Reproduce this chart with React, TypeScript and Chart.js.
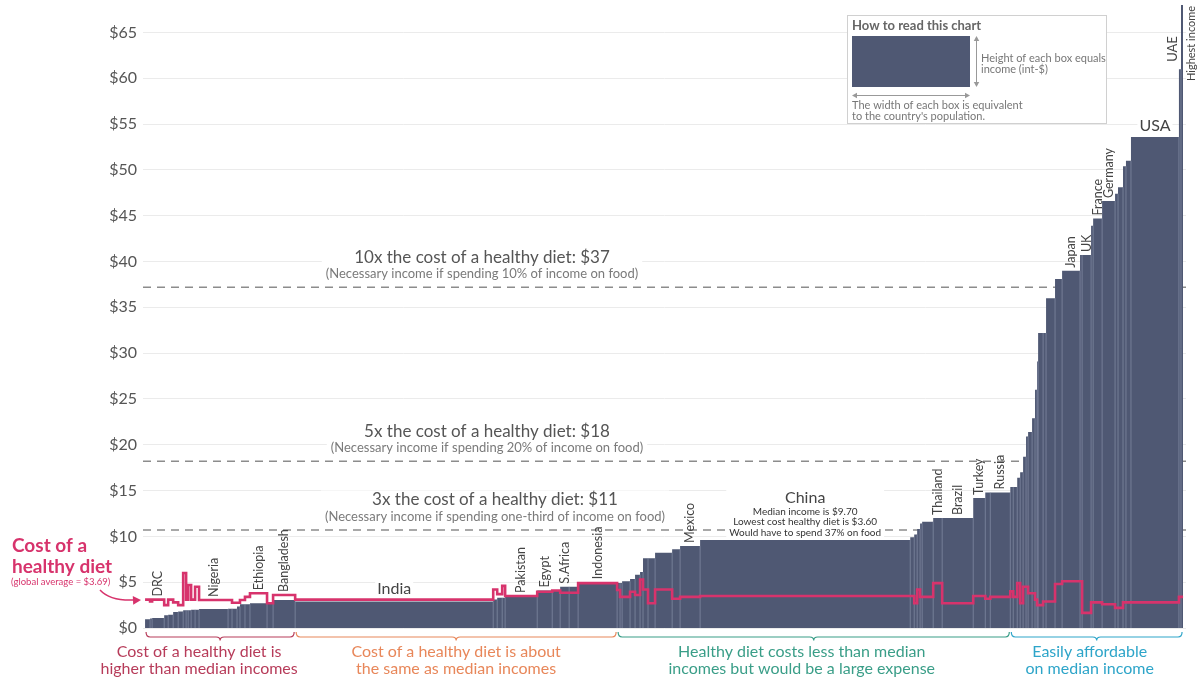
import React, { useEffect, useRef } from 'react';
import { Chart, registerables } from 'chart.js';

Chart.register(...registerables);

// ---------- DATA ----------
const countries = [
  '', '', 'DRC', '', '', '', '', '', '', '', '', '', 'Nigeria', '', '', '', '', '', 'Ethiopia', '', 'Bangladesh',
  'India', '', '', '', 'Pakistan', 'Egypt', '', 'S.Africa', '', 'Indonesia',
  '', '', '', '', '', '', '', '', '', '', 'Mexico', 'China', '', '', '', '', '', 'Thailand', 'Brazil', 'Turkey', '', 'Russia',
  '', '', '', '', '', '', '', '', '', '', '', '', '', '', 'Japan', '', 'UK', '', 'France', 'Germany', '', '', '', '', 'USA', 'UAE', 'Highest income',
];

// population, millions of people (box width)
const population = [
  34, 14, 82, 27, 34, 34, 34, 20, 14, 20, 27, 27, 197, 27, 34, 20, 34, 34, 116, 41, 150,
  1346, 27, 34, 20, 218, 102, 54, 61, 61, 265,
  20, 14, 54, 34, 34, 20, 34, 48, 116, 54, 136, 1428, 27, 20, 20, 14, 75, 61, 211, 82, 34, 136,
  20, 27, 20, 20, 20, 14, 27, 20, 14, 7, 34, 20, 61, 48, 122, 14, 61, 14, 61, 88, 20, 34, 20, 34, 326, 14, 14,
];

// median income, int-$ per day (box height)
const medianIncome = [
  0.95, 1.05, 1.1, 1.4, 1.45, 1.75, 1.8, 1.95, 1.95, 1.95, 2.0, 2.0, 2.08, 2.1, 2.1, 2.35, 2.6, 2.6, 2.7, 2.75, 3.05,
  2.88, 3.1, 3.3, 3.3, 3.4, 4.1, 4.15, 4.5, 4.5, 5.0,
  4.9, 4.9, 5.1, 5.35, 5.8, 6.1, 7.6, 7.6, 8.2, 8.6, 8.95, 9.6, 9.9, 10.2, 10.8, 11.4, 11.6, 12.0, 12.0, 14.2, 14.8, 14.8,
  15.4, 15.4, 16.4, 17.0, 18.7, 20.9, 21.4, 22.9, 26.0, 29.1, 32.2, 32.2, 36.0, 38.1, 39.0, 40.7, 40.7, 43.9, 44.7, 46.6, 47.4, 48.1, 50.4, 51.0, 53.6, 61.0, 68.0,
];

// lowest cost of a healthy diet, int-$ per day
const dietCost = [
  3.1, 2.9, 3.1, 2.5, 3.1, 2.8, 2.5, 6.0, 3.1, 4.7, 3.1, 4.5, 3.05, 3.05, 2.75, 2.75, 3.05, 3.4, 3.8, 2.7, 3.6,
  3.1, 4.2, 3.7, 4.6, 3.5, 3.95, 4.1, 3.85, 3.85, 4.9,
  4.15, 3.4, 3.4, 3.95, 3.6, 5.3, 4.2, 2.7, 4.2, 3.2, 3.4, 3.5, 3.5, 2.7, 4.2, 3.4, 3.4, 4.9, 2.7, 3.5, 3.2, 3.4,
  4.0, 3.4, 4.9, 2.7, 4.5, 4.5, 3.8, 3.8, 3.1, 2.5, 2.5, 2.9, 2.9, 4.8, 5.1, 5.1, 1.65, 2.8, 2.8, 2.6, 2.2, 2.2, 2.8, 2.8, 2.8, 3.4, 3.4,
];

const verticalLabelCountries = ['DRC', 'Nigeria', 'Ethiopia', 'Bangladesh', 'Pakistan', 'Egypt', 'S.Africa', 'Indonesia', 'Mexico', 'Thailand', 'Brazil', 'Turkey', 'Russia', 'Japan', 'UK', 'France', 'Germany'];
const horizontalLabelCountries = ['India', 'USA'];

const referenceIncome = [10.7, 18.2, 37.2];
const referenceTitle = ['3x the cost of a healthy diet: $11', '5x the cost of a healthy diet: $18', '10x the cost of a healthy diet: $37'];
const referenceNote = [
  '(Necessary income if spending one-third of income on food)',
  '(Necessary income if spending 20% of income on food)',
  '(Necessary income if spending 10% of income on food)',
];

const chinaNotes = ['Median income is $9.70', 'Lowest cost healthy diet is $3.60', 'Would have to spend 37% on food'];

const groupLastCountry = ['Bangladesh', 'Indonesia', 'Russia', 'Highest income'];
const groupLine1 = ['Cost of a healthy diet is', 'Cost of a healthy diet is about', 'Healthy diet costs less than median', 'Easily affordable'];
const groupLine2 = ['higher than median incomes', 'the same as median incomes', 'incomes but would be a large expense', 'on median income'];

// ---------- STYLE / LAYOUT ----------
const BAR = '#4f5873';
const SEP = 'rgba(150,158,182,0.55)';
const PINK = '#d7336c';
const GROUP_COLORS = ['#b73c5a', '#e8875a', '#3a9e88', '#2ea5c9'];
const GROUP_TEXT_SHIFT = [-21, 0, -12, -7];
const REF_TEXT_X = [495, 487, 482];
const SIDE_LABELS = [
  { country: 'UAE', dx: -7, at: 61.8, size: 13 },
  { country: 'Highest income', dx: 9, at: 59.7, size: 11 },
];
const FONT = 'Lato, "Open Sans", sans-serif';

const n = population.length;
const starts: number[] = [];
let acc = 0;
population.forEach((p) => {
  starts.push(acc);
  acc += p;
});
const total = acc;
const X_MIN = -14;
const X_MAX = total + 20;

function drawBlock(ctx: CanvasRenderingContext2D, cx: number, lines: { text: string; size: number; weight?: string; color: string; y: number }[], padX = 4) {
  let w = 0;
  lines.forEach((l) => {
    ctx.font = `${l.weight || 'normal'} ${l.size}px ${FONT}`;
    w = Math.max(w, ctx.measureText(l.text).width);
  });
  const top = Math.min(...lines.map((l) => l.y - l.size / 2)) - 1;
  const bottom = Math.max(...lines.map((l) => l.y + l.size / 2)) + 1;
  ctx.fillStyle = '#ffffff';
  ctx.fillRect(cx - w / 2 - padX, top, w + 2 * padX, bottom - top);
  ctx.textAlign = 'center';
  ctx.textBaseline = 'middle';
  lines.forEach((l) => {
    ctx.font = `${l.weight || 'normal'} ${l.size}px ${FONT}`;
    ctx.fillStyle = l.color;
    ctx.fillText(l.text, cx, l.y);
  });
}

function arrowHead(ctx: CanvasRenderingContext2D, x: number, y: number, angle: number, size: number) {
  ctx.save();
  ctx.translate(x, y);
  ctx.rotate(angle);
  ctx.beginPath();
  ctx.moveTo(0, 0);
  ctx.lineTo(-size, -size * 0.55);
  ctx.lineTo(-size, size * 0.55);
  ctx.closePath();
  ctx.fill();
  ctx.restore();
}

const annotationPlugin = {
  id: 'annotations',
  afterDatasetsDraw(chart: any) {
    const ctx: CanvasRenderingContext2D = chart.ctx;
    const xs = chart.scales.x;
    const ys = chart.scales.y;
    const X = (v: number) => xs.getPixelForValue(v);
    const Y = (v: number) => ys.getPixelForValue(v);
    ctx.save();

    // reference line captions
    referenceIncome.forEach((lvl, i) => {
      const y = Y(lvl);
      drawBlock(ctx, REF_TEXT_X[i], [
        { text: referenceTitle[i], size: 17, color: '#555', y: y - 30 },
        { text: referenceNote[i], size: 13, color: '#7a7a7a', y: y - 13 },
      ]);
    });

    // horizontal country labels
    horizontalLabelCountries.forEach((c) => {
      const i = countries.indexOf(c);
      const cx = X(starts[i] + population[i] / 2);
      drawBlock(ctx, cx, [{ text: c, size: 16, color: '#444', y: Y(Math.max(medianIncome[i], dietCost[i])) - 11 }], 2);
    });

    // China block
    {
      const i = countries.indexOf('China');
      const cx = X(starts[i] + population[i] / 2);
      const top = Y(medianIncome[i]);
      drawBlock(ctx, cx, [
        { text: 'China', size: 16, color: '#444', y: top - 42 },
        { text: chinaNotes[0], size: 10, color: '#333', y: top - 28 },
        { text: chinaNotes[1], size: 10, color: '#333', y: top - 18 },
        { text: chinaNotes[2], size: 10, color: '#333', y: top - 7 },
      ], 3);
    }

    // vertical country labels
    ctx.fillStyle = '#444';
    ctx.textAlign = 'left';
    ctx.textBaseline = 'middle';
    verticalLabelCountries.forEach((c) => {
      const i = countries.indexOf(c);
      const cx = X(starts[i] + population[i] / 2);
      const yb = Y(Math.max(medianIncome[i], dietCost[i])) - 3;
      ctx.save();
      ctx.translate(cx, yb);
      ctx.rotate(-Math.PI / 2);
      ctx.font = `12.5px ${FONT}`;
      ctx.fillText(c, 0, 0);
      ctx.restore();
    });
    SIDE_LABELS.forEach((s) => {
      const i = countries.indexOf(s.country);
      const cx = X(starts[i] + population[i] / 2) + s.dx;
      ctx.save();
      ctx.translate(cx, Y(s.at));
      ctx.rotate(-Math.PI / 2);
      ctx.font = `${s.size}px ${FONT}`;
      ctx.fillStyle = '#444';
      ctx.textAlign = 'left';
      ctx.textBaseline = 'middle';
      ctx.fillText(s.country, 0, 0);
      ctx.restore();
    });

    // group braces and captions
    let first = 0;
    const yTop = chart.chartArea.bottom + 4;
    groupLastCountry.forEach((c, g) => {
      const last = countries.indexOf(c);
      const x1 = X(starts[first]) + 1;
      const x2 = X(starts[last] + population[last]) - 1;
      const mid = (x1 + x2) / 2;
      const yl = yTop + 5;
      const r = 4;
      ctx.strokeStyle = GROUP_COLORS[g];
      ctx.lineWidth = 1.2;
      ctx.beginPath();
      ctx.moveTo(x1, yTop);
      ctx.quadraticCurveTo(x1, yl, x1 + r, yl);
      ctx.lineTo(mid - r, yl);
      ctx.quadraticCurveTo(mid, yl, mid, yl + 3.5);
      ctx.quadraticCurveTo(mid, yl, mid + r, yl);
      ctx.lineTo(x2 - r, yl);
      ctx.quadraticCurveTo(x2, yl, x2, yTop);
      ctx.stroke();
      ctx.fillStyle = GROUP_COLORS[g];
      ctx.font = `16px ${FONT}`;
      ctx.textAlign = 'center';
      ctx.textBaseline = 'middle';
      ctx.fillText(groupLine1[g], mid + GROUP_TEXT_SHIFT[g], yTop + 20);
      ctx.fillText(groupLine2[g], mid + GROUP_TEXT_SHIFT[g], yTop + 37);
      first = last + 1;
    });

    // left annotation for the pink line
    ctx.fillStyle = PINK;
    ctx.textAlign = 'left';
    ctx.textBaseline = 'middle';
    ctx.font = `bold 19px ${FONT}`;
    ctx.fillText('Cost of a', 12, 546);
    ctx.fillText('healthy diet', 12, 567);
    ctx.font = `9.5px ${FONT}`;
    ctx.fillText('(global average = $3.69)', 11, 582);
    ctx.strokeStyle = PINK;
    ctx.lineWidth = 1.5;
    ctx.beginPath();
    ctx.moveTo(100, 590);
    ctx.quadraticCurveTo(110, 601, 134, 600);
    ctx.stroke();
    arrowHead(ctx, 141, 600, -0.05, 8);

    // "How to read this chart" key
    const bx = 847, by = 15, bw = 259, bh = 108;
    ctx.fillStyle = '#ffffff';
    ctx.fillRect(bx, by, bw, bh);
    ctx.strokeStyle = '#d0d0d0';
    ctx.lineWidth = 1;
    ctx.strokeRect(bx + 0.5, by + 0.5, bw, bh);
    ctx.fillStyle = '#666';
    ctx.font = `bold 13px ${FONT}`;
    ctx.fillText('How to read this chart', 852, 26);
    ctx.fillStyle = BAR;
    ctx.fillRect(852, 36, 118, 51);
    ctx.strokeStyle = '#999';
    ctx.fillStyle = '#999';
    ctx.lineWidth = 1;
    ctx.beginPath();
    ctx.moveTo(976.5, 39);
    ctx.lineTo(976.5, 84);
    ctx.stroke();
    arrowHead(ctx, 976.5, 36, -Math.PI / 2, 5);
    arrowHead(ctx, 976.5, 87, Math.PI / 2, 5);
    ctx.beginPath();
    ctx.moveTo(855, 95.5);
    ctx.lineTo(967, 95.5);
    ctx.stroke();
    arrowHead(ctx, 852, 95.5, Math.PI, 5);
    arrowHead(ctx, 970, 95.5, 0, 5);
    ctx.fillStyle = '#777';
    ctx.font = `11px ${FONT}`;
    ctx.fillText('Height of each box equals', 981, 58);
    ctx.fillText('income (int-$)', 981, 69);
    ctx.fillText('The width of each box is equivalent', 852, 105);
    ctx.fillText("to the country's population.", 852, 116);

    ctx.restore();
  },
};

export default function App() {
  const canvasRef = useRef<HTMLCanvasElement | null>(null);

  useEffect(() => {
    if (!canvasRef.current) return;
    const incomePts = starts.map((s, i) => ({ x: s, y: medianIncome[i] })).concat([{ x: total, y: medianIncome[n - 1] }]);
    const costPts = starts.map((s, i) => ({ x: s, y: dietCost[i] })).concat([{ x: total, y: dietCost[n - 1] }]);
    const sepPts: { x: number; y: number | null }[] = [];
    for (let i = 1; i < n; i++) {
      sepPts.push({ x: starts[i], y: 0 });
      sepPts.push({ x: starts[i], y: Math.min(medianIncome[i - 1], medianIncome[i]) });
      sepPts.push({ x: starts[i], y: null });
    }
    const refSets = referenceIncome.map((lvl) => ({
      data: [{ x: X_MIN, y: lvl }, { x: X_MAX, y: lvl }],
      borderColor: '#8c8c8c',
      borderWidth: 1.5,
      borderDash: [8, 6],
      pointRadius: 0,
      fill: false,
      order: 10,
    }));

    const chart = new Chart(canvasRef.current, {
      type: 'line',
      data: {
        datasets: [
          ...refSets,
          {
            data: incomePts,
            stepped: 'before',
            fill: 'origin',
            backgroundColor: BAR,
            borderColor: 'rgba(0,0,0,0)',
            borderWidth: 0,
            pointRadius: 0,
            order: 5,
          },
          {
            data: sepPts,
            borderColor: SEP,
            borderWidth: 1,
            pointRadius: 0,
            fill: false,
            spanGaps: false,
            order: 4,
          },
          {
            data: costPts,
            stepped: 'before',
            borderColor: PINK,
            borderWidth: 2.6,
            pointRadius: 0,
            fill: false,
            order: 0,
          },
        ] as any,
      },
      options: {
        responsive: false,
        animation: false,
        devicePixelRatio: 1,
        layout: { padding: { left: 0, right: 16, top: 5, bottom: 51 } },
        plugins: { legend: { display: false }, tooltip: { enabled: false } },
        events: [],
        scales: {
          x: { type: 'linear', min: X_MIN, max: X_MAX, display: false },
          y: {
            min: 0,
            max: 68,
            afterFit: (s: any) => {
              s.width = 143;
              s.paddingTop = 0;
              s.paddingBottom = 0;
            },
            ticks: {
              stepSize: 5,
              includeBounds: false,
              padding: 6,
              color: '#555',
              font: { size: 16, family: FONT },
              callback: (v: any) => '$' + v,
            },
            grid: { color: '#ebebeb', drawTicks: false },
            border: { display: false },
          },
        },
      } as any,
      plugins: [annotationPlugin],
    });
    return () => chart.destroy();
  }, []);

  return (
    <div style={{ position: 'absolute', left: 0, top: 0, width: 1202, height: 679, background: '#fff' }}>
      <canvas ref={canvasRef} width={1202} height={679} />
    </div>
  );
}
